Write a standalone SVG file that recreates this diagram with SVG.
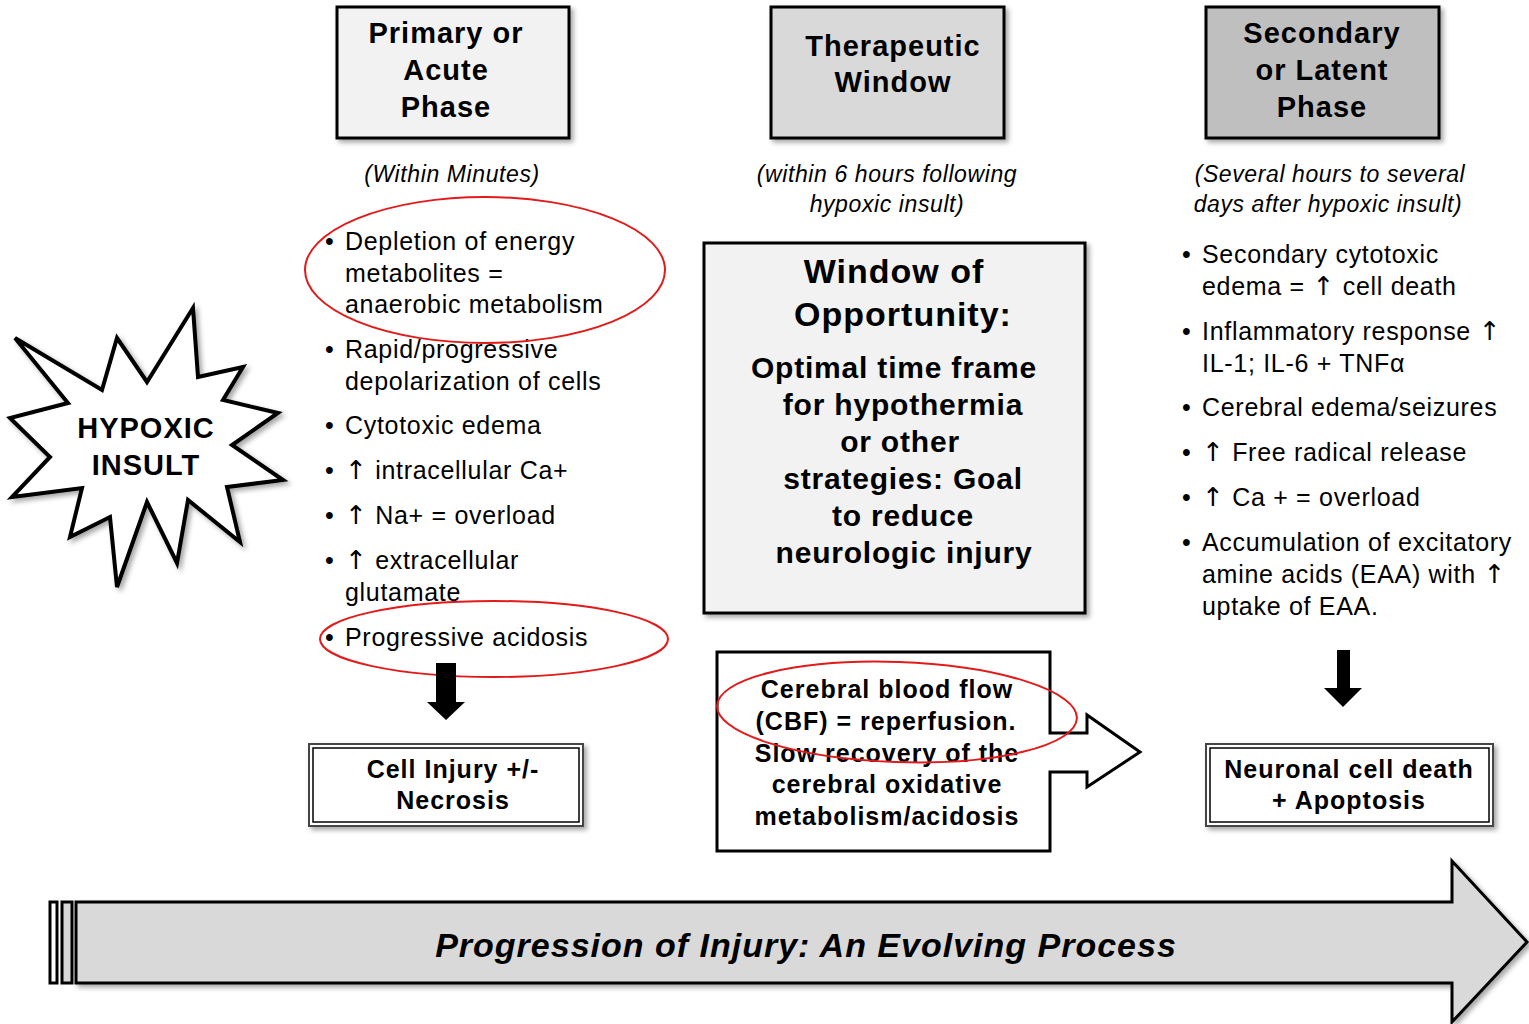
<svg xmlns="http://www.w3.org/2000/svg" width="1529" height="1024" viewBox="0 0 1529 1024">
<style>
  text { font-family: "Liberation Sans", Arial, "DejaVu Sans", sans-serif; fill: #000; }
  .hdr { font-size: 29px; font-weight: bold; text-anchor: middle; letter-spacing: 1px; }
  .sub { font-size: 23px; font-style: italic; text-anchor: middle; letter-spacing: 0.6px; }
  .bl { font-size: 25px; letter-spacing: 0.7px; }
  .bd { font-size: 25px; font-weight: bold; text-anchor: middle; letter-spacing: 1px; }
  .wb { font-size: 30px; font-weight: bold; text-anchor: middle; letter-spacing: 0.8px; }
  .wt { font-size: 34px; font-weight: bold; text-anchor: middle; letter-spacing: 1px; }
  .ar { font-family: "DejaVu Sans", sans-serif; font-size: 26px; }
  .box { stroke: #000; stroke-width: 3; }
  .red { fill: none; stroke: #e31a1a; stroke-width: 2; }
</style>
<defs>
  <filter id="sh" x="-10%" y="-10%" width="125%" height="125%">
    <feDropShadow dx="3" dy="3" stdDeviation="2.5" flood-color="#000" flood-opacity="0.35"/>
  </filter>
</defs>
<rect width="1529" height="1024" fill="#fff"/>

<g id="primary-phase">
  <rect class="box" x="337" y="7" width="232" height="131" fill="#f2f2f2" filter="url(#sh)"/>
  <text class="hdr" x="446" y="43">Primary or</text>
  <text class="hdr" x="446" y="80">Acute</text>
  <text class="hdr" x="446" y="117">Phase</text>
</g>
<g id="therapeutic-window">
  <rect class="box" x="771" y="7" width="233" height="131" fill="#d9d9d9" filter="url(#sh)"/>
  <text class="hdr" x="893" y="56">Therapeutic</text>
  <text class="hdr" x="893" y="92">Window</text>
</g>
<g id="secondary-phase">
  <rect class="box" x="1206" y="7" width="233" height="131" fill="#bfbfbf" filter="url(#sh)"/>
  <text class="hdr" x="1322" y="43">Secondary</text>
  <text class="hdr" x="1322" y="80">or Latent</text>
  <text class="hdr" x="1322" y="117">Phase</text>
</g>

<g id="subtitles">
  <text class="sub" x="452" y="182">(Within Minutes)</text>
  <text class="sub" x="887" y="182">(within 6 hours following</text>
  <text class="sub" x="887" y="212">hypoxic insult)</text>
  <text class="sub" x="1330" y="182">(Several hours to several</text>
  <text class="sub" x="1328" y="212">days  after hypoxic insult)</text>
</g>

<g id="hypoxic-insult">
  <path d="M15,338 L102,390 L117,338 L147,382 L193,308 L198,377 L243,367 L223,400 L278,413 L232,445 L283,480 L227,487 L240,542 L188,500 L177,563 L147,502 L117,587 L110,517 L70,537 L82,488 L12,497 L50,457 L10,418 L68,403 Z" fill="#fff" stroke="#000" stroke-width="4" stroke-linejoin="miter" filter="url(#sh)"/>
  <text class="hdr" x="146" y="438">HYPOXIC</text>
  <text class="hdr" x="146" y="475">INSULT</text>
</g>

<g id="primary-list">
  <text class="bl" x="325" y="250">•</text>
  <text class="bl" x="345" y="250">Depletion of energy</text>
  <text class="bl" x="345" y="282">metabolites =</text>
  <text class="bl" x="345" y="313">anaerobic metabolism</text>
  <text class="bl" x="325" y="358">•</text>
  <text class="bl" x="345" y="358">Rapid/progressive</text>
  <text class="bl" x="345" y="390">depolarization of cells</text>
  <text class="bl" x="325" y="434">•</text>
  <text class="bl" x="345" y="434">Cytotoxic edema</text>
  <text class="bl" x="325" y="479">•</text>
  <text class="bl" x="345" y="479"><tspan class="ar">↑</tspan> intracellular Ca+</text>
  <text class="bl" x="325" y="524">•</text>
  <text class="bl" x="345" y="524"><tspan class="ar">↑</tspan> Na+ = overload</text>
  <text class="bl" x="325" y="569">•</text>
  <text class="bl" x="345" y="569"><tspan class="ar">↑</tspan> extracellular</text>
  <text class="bl" x="345" y="601">glutamate</text>
  <text class="bl" x="325" y="646">•</text>
  <text class="bl" x="345" y="646">Progressive acidosis</text>
</g>

<g id="secondary-list">
  <text class="bl" x="1182" y="263">•</text>
  <text class="bl" x="1202" y="263">Secondary cytotoxic</text>
  <text class="bl" x="1202" y="295">edema = <tspan class="ar">↑</tspan> cell death</text>
  <text class="bl" x="1182" y="340">•</text>
  <text class="bl" x="1202" y="340">Inflammatory response <tspan class="ar">↑</tspan></text>
  <text class="bl" x="1202" y="372">IL-1; IL-6 + TNFα</text>
  <text class="bl" x="1182" y="416">•</text>
  <text class="bl" x="1202" y="416">Cerebral edema/seizures</text>
  <text class="bl" x="1182" y="461">•</text>
  <text class="bl" x="1202" y="461"><tspan class="ar">↑</tspan> Free radical release</text>
  <text class="bl" x="1182" y="506">•</text>
  <text class="bl" x="1202" y="506"><tspan class="ar">↑</tspan> Ca + = overload</text>
  <text class="bl" x="1182" y="551">•</text>
  <text class="bl" x="1202" y="551">Accumulation of excitatory</text>
  <text class="bl" x="1202" y="583">amine acids (EAA) with <tspan class="ar">↑</tspan></text>
  <text class="bl" x="1202" y="615">uptake of EAA.</text>
</g>

<g id="window-of-opportunity">
  <rect class="box" x="704" y="243" width="381" height="370" fill="#f2f2f2" filter="url(#sh)"/>
  <text class="wt" x="894" y="283">Window of</text>
  <text class="wt" x="903" y="326">Opportunity:</text>
  <text class="wb" x="894" y="378">Optimal time frame</text>
  <text class="wb" x="903" y="415">for hypothermia</text>
  <text class="wb" x="900" y="452">or other</text>
  <text class="wb" x="903" y="489">strategies: Goal</text>
  <text class="wb" x="903" y="526">to reduce</text>
  <text class="wb" x="904" y="563">neurologic injury</text>
</g>

<g id="cbf-callout">
  <path class="box" d="M717,652 H1050 V733 H1087 V715 L1140,752 L1087,787 V772 H1050 V851 H717 Z" fill="#fff" stroke-linejoin="miter"/>
  <text class="bd" x="887" y="698">Cerebral blood  flow</text>
  <text class="bd" x="886" y="730">(CBF) = reperfusion.</text>
  <text class="bd" x="887" y="762">Slow recovery of the</text>
  <text class="bd" x="887" y="793">cerebral oxidative</text>
  <text class="bd" x="887" y="825">metabolism/acidosis</text>
</g>

<g id="cell-injury">
  <rect x="309" y="744" width="274" height="82" fill="#fff" stroke="#444" stroke-width="2" filter="url(#sh)"/>
  <rect x="313" y="748" width="266" height="74" fill="none" stroke="#000" stroke-width="1.5"/>
  <text class="bd" x="453" y="778">Cell Injury +/-</text>
  <text class="bd" x="453" y="809">Necrosis</text>
</g>

<g id="neuronal-death">
  <rect x="1206" y="744" width="287" height="82" fill="#fff" stroke="#444" stroke-width="2" filter="url(#sh)"/>
  <rect x="1210" y="748" width="279" height="74" fill="none" stroke="#000" stroke-width="1.5"/>
  <text class="bd" x="1349" y="778">Neuronal cell death</text>
  <text class="bd" x="1349" y="809">+ Apoptosis</text>
</g>

<g id="highlights">
  <ellipse class="red" cx="485" cy="270" rx="180" ry="73"/>
  <ellipse class="red" cx="494" cy="639" rx="174" ry="38"/>
  <ellipse class="red" cx="897" cy="712" rx="180" ry="50" transform="rotate(2 897 712)"/>
</g>

<g id="connectors">
  <path d="M436,663 H456 V702 H465 L446,720 L427,702 H436 Z" fill="#000"/>
  <path d="M1337,650 H1350 V688 H1362 L1343,707 L1324,688 H1337 Z" fill="#000"/>
</g>

<g id="progression-arrow">
  <rect x="50" y="902" width="7" height="81" fill="#fff" stroke="#000" stroke-width="3"/>
  <rect x="62" y="902" width="10" height="81" fill="#d9d9d9" stroke="#000" stroke-width="3"/>
  <path d="M76,902 H1452 V861 L1527,942 L1452,1022 V983 H76 Z" fill="#d9d9d9" stroke="#000" stroke-width="3" stroke-linejoin="miter" filter="url(#sh)"/>
  <text x="806" y="957" style="font-size:34px;font-weight:bold;font-style:italic;text-anchor:middle;letter-spacing:1px">Progression of Injury: An Evolving Process</text>
</g>
</svg>
